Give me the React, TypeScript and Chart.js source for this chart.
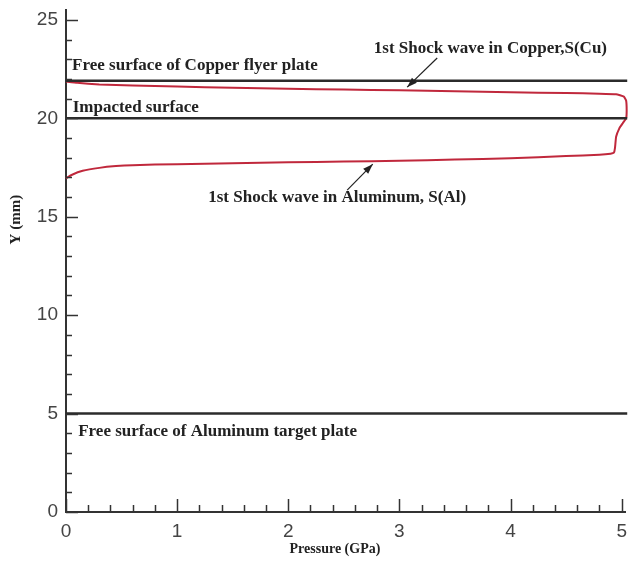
import React, { useEffect, useRef } from 'react';
import { Chart, registerables } from 'chart.js';

Chart.register(...registerables);

// Pressure profile (GPa) along Y (mm) — traced as one loop
const curvePressure = [0, 0.1, 0.3, 0.6, 1, 1.5, 2, 2.5, 3, 3.5, 4, 4.5, 4.8, 4.95, 5.02, 5.04, 5.045, 5.04, 5.01, 4.98, 4.95, 4.94, 4.93, 4.9, 4.8, 4.5, 4, 3.5, 3, 2.5, 2, 1.5, 1, 0.6, 0.45, 0.3, 0.15, 0.05, 0];
const curveY = [21.87, 21.8, 21.72, 21.66, 21.61, 21.55, 21.5, 21.46, 21.42, 21.37, 21.32, 21.28, 21.25, 21.22, 21.1, 20.9, 20.4, 20.0, 19.75, 19.5, 19.06, 18.5, 18.25, 18.2, 18.15, 18.08, 17.97, 17.9, 17.84, 17.8, 17.76, 17.72, 17.67, 17.62, 17.57, 17.48, 17.33, 17.12, 16.95];

// Horizontal surfaces (mm) and their pressure extent
const surfaceY = [21.9, 20, 5];
const surfaceP = [0, 5.05];

const xTickValues = [0, 1, 2, 3, 4, 5];
const yTickValues = [0, 5, 10, 15, 20, 25];

const labels = [
  'Free surface of Copper flyer plate',
  'Impacted surface',
  '1st Shock wave in Copper,S(Cu)',
  '1st Shock wave in Aluminum, S(Al)',
  'Free surface of Aluminum target plate',
];

const annotationPlugin = {
  id: 'annotations',
  afterDraw(chart: any) {
    const ctx = chart.ctx;
    const xs = chart.scales.x;
    const ys = chart.scales.y;
    const area = chart.chartArea;
    const X = (v: number) => xs.getPixelForValue(v);
    const Y = (v: number) => ys.getPixelForValue(v);
    ctx.save();
    // minor / major ticks (inward)
    ctx.strokeStyle = '#333';
    ctx.lineWidth = 1.5;
    for (let i = 0; i <= 25; i++) {
      const len = i % 5 === 0 ? 12 : 6;
      const py = Math.round(Y(i)) + 0.5;
      ctx.beginPath();
      ctx.moveTo(area.left, py);
      ctx.lineTo(area.left + len, py);
      ctx.stroke();
    }
    for (let i = 0; i <= 25; i++) {
      const v = i * 0.2;
      const len = i % 5 === 0 ? 13 : 7;
      const px = Math.round(X(v)) + 0.5;
      ctx.beginPath();
      ctx.moveTo(px, area.bottom);
      ctx.lineTo(px, area.bottom - len);
      ctx.stroke();
    }

    // text annotations
    const items = [
      { t: labels[0], p: 0.055, y: 22.65 },
      { t: labels[1], p: 0.06, y: 20.54 },
      { t: labels[2], p: 2.77, y: 23.54 },
      { t: labels[3], p: 1.28, y: 15.95 },
      { t: labels[4], p: 0.11, y: 4.06 },
    ];
    ctx.fillStyle = '#222';
    ctx.font = 'bold 17px "Liberation Serif"';
    ctx.textBaseline = 'middle';
    ctx.textAlign = 'left';
    items.forEach((it) => ctx.fillText(it.t, X(it.p), Y(it.y)));

    // arrows
    const arrows = [
      { p0: 3.34, y0: 23.06, p1: 3.07, y1: 21.58 },
      { p0: 2.53, y0: 16.35, p1: 2.76, y1: 17.67 },
    ];
    ctx.strokeStyle = '#222';
    ctx.lineWidth = 1.2;
    arrows.forEach((a) => {
      const x0 = X(a.p0), y0 = Y(a.y0), x1 = X(a.p1), y1 = Y(a.y1);
      const ang = Math.atan2(y1 - y0, x1 - x0);
      ctx.beginPath();
      ctx.moveTo(x0, y0);
      ctx.lineTo(x1, y1);
      ctx.stroke();
      const L = 10, W = 3.5;
      ctx.beginPath();
      ctx.moveTo(x1, y1);
      ctx.lineTo(x1 - L * Math.cos(ang) + W * Math.sin(ang), y1 - L * Math.sin(ang) - W * Math.cos(ang));
      ctx.lineTo(x1 - L * Math.cos(ang) - W * Math.sin(ang), y1 - L * Math.sin(ang) + W * Math.cos(ang));
      ctx.closePath();
      ctx.fill();
    });

    // axis titles
    ctx.fillStyle = '#222';
    ctx.font = 'bold 14px "Liberation Serif"';
    ctx.textAlign = 'center';
    ctx.textBaseline = 'middle';
    ctx.fillText('Pressure (GPa)', X(2.42), area.bottom + 37);
    ctx.save();
    ctx.translate(area.left - 50, Y(14.85));
    ctx.rotate(-Math.PI / 2);
    ctx.font = 'bold 15px "Liberation Serif"';
    ctx.fillText('Y (mm)', 0, 0);
    ctx.restore();
    ctx.restore();
  },
};

export default function App() {
  const ref = useRef<HTMLCanvasElement | null>(null);
  useEffect(() => {
    if (!ref.current) return;
    const curve = curvePressure.map((p, i) => ({ x: p, y: curveY[i] }));
    const surfaces = surfaceY.map((y) => ({
      type: 'line' as const,
      data: surfaceP.map((p) => ({ x: p, y })),
      borderColor: '#2b2b2b',
      borderWidth: 2.5,
      pointRadius: 0,
      showLine: true,
      clip: false as any,
    }));
    const chart = new Chart(ref.current, {
      type: 'scatter',
      data: {
        datasets: [
          ...surfaces,
          {
            data: curve,
            showLine: true,
            borderColor: '#c0283c',
            borderWidth: 2,
            pointRadius: 0,
            tension: 0.1,
            clip: false as any,
          },
        ] as any,
      },
      options: {
        responsive: false,
        animation: false,
        layout: { padding: { left: 0, right: 4, top: 10, bottom: 0 } },
        plugins: { legend: { display: false }, tooltip: { enabled: false } },
        scales: {
          x: {
            type: 'linear',
            min: 0,
            max: 5.03,
            afterBuildTicks: (s: any) => {
              s.ticks = xTickValues.map((v) => ({ value: v }));
            },
            afterFit: (s: any) => {
              s.height = 53;
              s.paddingLeft = 0;
              s.paddingRight = 0;
            },
            grid: { display: false, drawTicks: false },
            border: { display: true, color: '#333', width: 2 },
            ticks: {
              padding: 8,
              color: '#444',
              font: { family: '"Liberation Sans"', size: 19 },
              maxRotation: 0,
            },
          },
          y: {
            type: 'linear',
            min: 0,
            max: 25.5,
            afterBuildTicks: (s: any) => {
              s.ticks = yTickValues.map((v) => ({ value: v }));
            },
            afterFit: (s: any) => {
              s.width = 66;
              s.paddingTop = 0;
              s.paddingBottom = 0;
            },
            grid: { display: false, drawTicks: false },
            border: { display: true, color: '#333', width: 2 },
            ticks: {
              padding: 8,
              color: '#444',
              font: { family: '"Liberation Sans"', size: 19 },
            },
          },
        },
      },
      plugins: [annotationPlugin],
    });
    return () => chart.destroy();
  }, []);
  return (
    <div style={{ position: 'fixed', left: 0, top: 0, width: 629, height: 565, background: '#fff' }}>
      <canvas ref={ref} width={629} height={565} />
    </div>
  );
}
